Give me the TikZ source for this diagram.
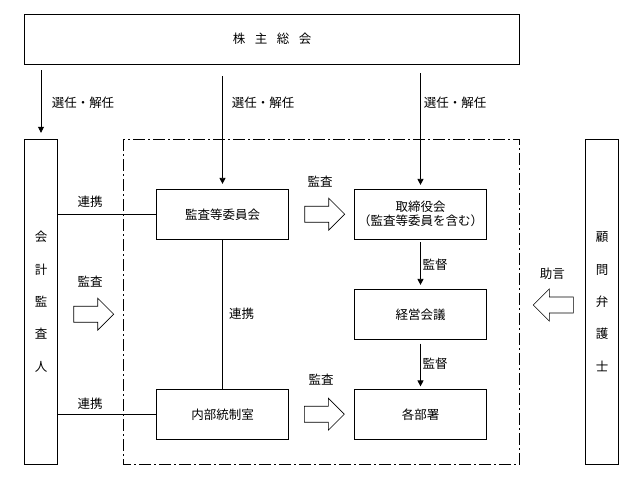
\documentclass[tikz,border=0pt]{standalone}
\usepackage{fontspec}
\usepackage{tikz}
\usetikzlibrary{arrows.meta}
\setmainfont{Noto Sans CJK JP}

\begin{document}
\begin{tikzpicture}[x=1pt, y=-1pt, line width=0.8pt,
	box/.style={draw, rectangle, minimum width=132pt, minimum height=50pt, inner sep=0pt, align=center, font=\fontsize{12.5}{14}\selectfont},
	tall/.style={draw, rectangle, minimum width=33pt, minimum height=325pt, inner sep=0pt, align=center, font=\fontsize{12.5}{32.3}\selectfont},
	lbl/.style={inner sep=0pt, font=\fontsize{12.5}{14}\selectfont},
	sel/.style={-{Triangle[length=6pt, width=6pt]}},
	blkarrow/.pic={\draw[fill=white, line width=0.6pt] (-20,-8) -- (4,-8) -- (4,-16) -- (20,0) -- (4,16) -- (4,8) -- (-20,8) -- cycle;}
]
\useasboundingbox (0,0) rectangle (643,483);

\node[draw, rectangle, minimum width=495pt, minimum height=50pt, inner sep=0pt, font=\fontsize{12.5}{14}\selectfont] (soukai) at (272,39)
	{株\hspace{9.5pt}主\hspace{9.5pt}総\hspace{9.5pt}会};

\node[tall] (kansanin) at (41,301.7) {会\\計\\監\\査\\人};
\node[tall] (komon) at (602,301.7) {顧\\問\\弁\\護\\士};

\draw[dash pattern=on 12pt off 3pt on 2pt off 3pt] (123.7,139.3) rectangle (519.5,464);

\node[box] (iinkai) at (222.5,214.3) {監査等委員会};
\node[box] (torishimari) at (420.5,214.3) {取締役会\\（監査等委員を含む）};
\node[box] (keiei) at (420.5,314.3) {経営会議};
\node[box] (naibu) at (222.5,414.3) {内部統制室};
\node[box] (kakubu) at (420.5,414.3) {各部署};

% 選任・解任
\draw[sel, shorten <=6pt, shorten >=6pt] (soukai.south -| kansanin.north) -- (kansanin.north);
\draw[sel, shorten <=12pt, shorten >=5pt] (soukai.south -| iinkai.north) -- (iinkai.north);
\draw[sel, shorten <=9pt, shorten >=4pt] (soukai.south -| torishimari.north) -- (torishimari.north);
\node[lbl] (sel1) at (83,103) {選任・解任};
\node[lbl] (sel2) at (263,103) {選任・解任};
\node[lbl] (sel3) at (455,103) {選任・解任};

% 連携
\draw (iinkai.west -| kansanin.east) -- (iinkai.west);
\draw (naibu.west -| kansanin.east) -- (naibu.west);
\draw (iinkai.south) -- (naibu.north);
\node[lbl] (ren1) at (90,201.7) {連携};
\node[lbl] (ren2) at (90,403.3) {連携};
\node[lbl] (ren3) at (241.7,314) {連携};

% 監督
\draw[sel, shorten <=2.5pt, shorten >=4pt] (torishimari.south) -- (keiei.north);
\draw[sel, shorten <=4pt, shorten >=2.5pt] (keiei.south) -- (kakubu.north);
\node[lbl] (kan1) at (435,265) {監督};
\node[lbl] (kan2) at (435,364) {監督};

% 監査・助言
\pic at (93.7,314.2) {blkarrow};
\pic at (324.7,214.2) {blkarrow};
\pic at (324.3,414.2) {blkarrow};
\pic[rotate=180] at (553.3,305) {blkarrow};
\node[lbl] (sa1) at (90,281.7) {監査};
\node[lbl] (sa2) at (320,181.7) {監査};
\node[lbl] (sa3) at (321,380) {監査};
\node[lbl] (jogen) at (552.3,273.3) {助言};
\end{tikzpicture}
\end{document}
